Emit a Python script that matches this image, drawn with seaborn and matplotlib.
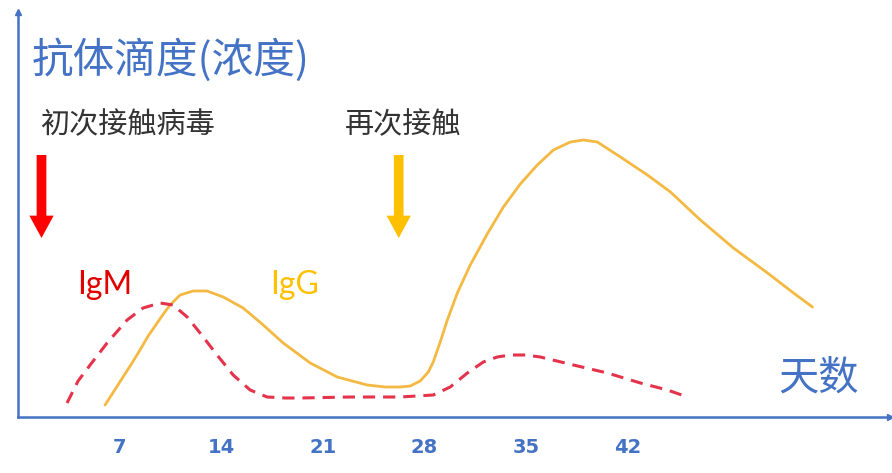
import numpy as np
import pandas as pd
import matplotlib
matplotlib.use("Agg")
import matplotlib.pyplot as plt
import seaborn as sns

# datos (dias, altura relativa)
igm_dias = [3.38, 4.14, 4.97, 6.14, 7.52, 8.62, 9.79, 10.69, 11.66, 12.55, 13.72,
            14.83, 16.00, 17.17, 18.41, 19.45, 22.90, 26.34, 28.62, 29.79, 30.97,
            32.07, 33.03, 33.93, 34.97, 36.00, 38.28, 40.62, 42.90, 44.76, 46.14]
igm_valor = [14, 36, 52, 74, 97, 109, 114, 112, 100, 84, 62,
             42, 27, 20, 19, 19, 20, 20, 22, 30, 44,
             55, 60, 62, 62, 60, 52, 44, 34, 27, 20]

igg_dias = [6.00, 6.62, 7.24, 7.86, 8.41, 8.97, 9.59, 10.07, 10.48, 11.17, 12.07,
            13.03, 14.14, 15.52, 16.90, 18.28, 20.14, 22.00, 24.07, 25.31, 26.34,
            27.03, 27.72, 28.28, 28.62, 29.10, 29.59, 30.28, 31.17, 32.34, 33.45,
            34.62, 35.79, 36.90, 38.07, 38.97, 39.93, 41.52, 43.38, 44.97, 47.03,
            49.31, 51.66, 53.45, 54.76]
igg_valor = [12, 26, 40, 54, 67, 81, 94, 104, 112, 122, 126,
             126, 120, 109, 92, 74, 54, 40, 32, 30, 30,
             31, 36, 45, 55, 75, 97, 124, 152, 183, 210,
             233, 252, 267, 275, 277, 275, 260, 242, 225, 197,
             169, 144, 124, 110]

dias_ticks = [7, 14, 21, 28, 35, 42]

AZUL = "#4472C4"

sns.set_style("white")
plt.rcParams['font.family'] = ['Noto Sans CJK SC', 'DejaVu Sans']

fig = plt.figure(figsize=(8.92, 4.73), dpi=100)
ax = fig.add_axes([18 / 892, 1 - 417 / 473, (890 - 18) / 892, (417 - 12) / 473])

df_igm = pd.DataFrame({'dia': igm_dias, 'valor': igm_valor})
df_igg = pd.DataFrame({'dia': igg_dias, 'valor': igg_valor})

sns.lineplot(data=df_igg, x='dia', y='valor', ax=ax, color="#F4B942", lw=2.0,
             sort=False, solid_joinstyle='round', solid_capstyle='round')
sns.lineplot(data=df_igm, x='dia', y='valor', ax=ax, color="#E5334B", lw=2.2,
             linestyle=(0, (4, 2.6)), sort=False, dash_joinstyle='round')

ax.set_xlim(0, 60.1)
ax.set_ylim(0, 405)

# ejes con flecha
for s in ['top', 'right']:
    ax.spines[s].set_visible(False)
for s in ['left', 'bottom']:
    ax.spines[s].set_color(AZUL)
    ax.spines[s].set_linewidth(1.8)
ax.plot(1, 0, '>', color=AZUL, ms=5, transform=ax.transAxes, clip_on=False)
ax.plot(0, 1, '^', color=AZUL, ms=5, transform=ax.transAxes, clip_on=False)

ax.set_xticks(dias_ticks)
ax.set_xticklabels([str(d) for d in dias_ticks], fontsize=14, fontweight='bold',
                   color=AZUL, family=['DejaVu Sans'])
ax.tick_params(axis='x', length=0, pad=15)
ax.set_yticks([])
ax.set_xlabel('')
ax.set_ylabel('')

# textos
ax.text(0.97, 357, '抗体滴度(浓度)', fontsize=30, color=AZUL, ha='left', va='center',
        fontweight='medium')
ax.text(1.5, 292, '初次接触病毒', fontsize=21, color='#333333', ha='left', va='center')
ax.text(22.55, 292, '再次接触', fontsize=21, color='#333333', ha='left', va='center')
ax.text(4.1, 132, 'IgM', fontsize=23, color='#E00000', ha='left', va='center',
        family=['Lato'])
ax.text(17.4, 132, 'IgG', fontsize=23, color='#FFC000', ha='left', va='center',
        family=['Lato'])
ax.text(52.4, 39, '天数', fontsize=29, color=AZUL, ha='left', va='center')

# flechas de contacto
estilo = 'simple,head_length=1.15,head_width=1.25,tail_width=0.5'
ax.annotate('', xy=(1.62, 179), xytext=(1.62, 262),
            arrowprops=dict(arrowstyle=estilo, color='#FF0000', mutation_scale=14,
                            shrinkA=0, shrinkB=0, lw=0))
ax.annotate('', xy=(26.24, 179), xytext=(26.24, 262),
            arrowprops=dict(arrowstyle=estilo, color='#FFC000', mutation_scale=14,
                            shrinkA=0, shrinkB=0, lw=0))

fig.savefig('out.png', dpi=100)
